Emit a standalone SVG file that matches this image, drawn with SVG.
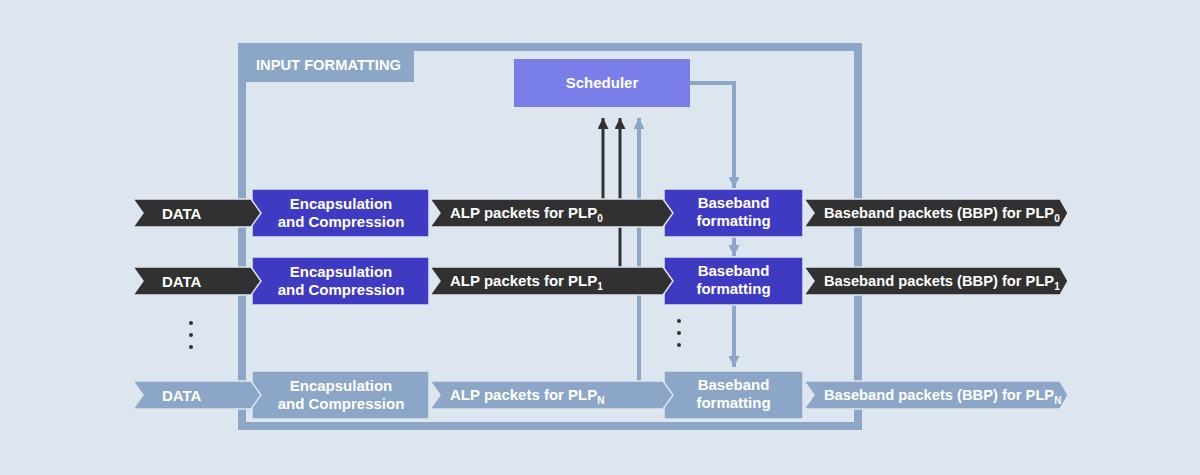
<svg xmlns="http://www.w3.org/2000/svg" width="1200" height="475" viewBox="0 0 1200 475">
<style>
text{font-family:"Liberation Sans",Arial,sans-serif;font-weight:bold;fill:#ffffff}
.t{font-size:15px}
.b{font-size:14.7px}
.c{text-anchor:middle}
.sub{font-size:10px}
.dark{fill:#313131}
.blue{fill:#3f3ac2}
.lite{fill:#8ba6c6}
.shape{stroke:#dde6ee;stroke-width:1.5}
.ln-dark{stroke:#313131;stroke-width:3;fill:none}
.ln-lite{stroke:#8ba6c6;stroke-width:4;fill:none}
.dot{fill:#313131}
</style>
<defs>
<marker id="ahD" markerWidth="11" markerHeight="11" refX="10" refY="5" orient="auto" markerUnits="userSpaceOnUse" viewBox="0 0 10 10"><path d="M0,0 L10,5 L0,10 Z" fill="#313131"/></marker>
<marker id="ahL" markerWidth="11" markerHeight="11" refX="10" refY="5" orient="auto" markerUnits="userSpaceOnUse" viewBox="0 0 10 10"><path d="M0,0 L10,5 L0,10 Z" fill="#8ba6c6"/></marker>
</defs>
<rect width="1200" height="475" fill="#dde6ee"/>
<g id="frame">
<rect x="242" y="47" width="616" height="379" fill="none" stroke="#8ba6c6" stroke-width="8"/>
<rect x="238" y="43" width="176" height="39" fill="#8ba6c6"/>
<text x="256" y="70" style="font-size:14.7px">INPUT FORMATTING</text>
</g>
<g id="connectors">
<path class="ln-dark" d="M603,199 V118" marker-end="url(#ahD)"/>
<path class="ln-dark" d="M620,267 V118" marker-end="url(#ahD)"/>
<path class="ln-lite" d="M639,381 V118" stroke-width="3" marker-end="url(#ahL)"/>
<path class="ln-lite" d="M690,83 H734 V188" marker-end="url(#ahL)"/>
<path class="ln-lite" d="M734,237 V256" marker-end="url(#ahL)"/>
<path class="ln-lite" d="M734,305 V367" marker-end="url(#ahL)"/>
</g>
<g id="scheduler">
<rect x="514" y="59" width="176" height="48" fill="#7a7ee9"/>
<text class="t c" x="602" y="88">Scheduler</text>
</g>
<g id="row0">
<rect class="blue shape" x="252" y="189" width="177" height="48"/>
<rect class="blue shape" x="664" y="189" width="139" height="48"/>
<polygon class="dark shape" points="133,199 251,199 261,213 251,227 133,227 143,213"/>
<polygon class="dark shape" points="430,199 663,199 673,213 663,227 430,227 440,213"/>
<polygon class="dark shape" points="804,199 1060,199 1068,213 1060,227 804,227 814,213"/>
<text class="t" x="162" y="219">DATA</text>
<text class="t c" x="341" y="209">Encapsulation</text>
<text class="t c" x="341" y="227">and Compression</text>
<text class="t" x="450" y="218">ALP packets for PLP<tspan class="sub" dy="4">0</tspan></text>
<text class="t c" x="733.5" y="208">Baseband</text>
<text class="t c" x="733.5" y="226">formatting</text>
<text class="b" x="824" y="218">Baseband packets (BBP) for PLP<tspan class="sub" dy="4">0</tspan></text>
</g>
<g id="row1">
<rect class="blue shape" x="252" y="257" width="177" height="48"/>
<rect class="blue shape" x="664" y="257" width="139" height="48"/>
<polygon class="dark shape" points="133,267 251,267 261,281 251,295 133,295 143,281"/>
<polygon class="dark shape" points="430,267 663,267 673,281 663,295 430,295 440,281"/>
<polygon class="dark shape" points="804,267 1060,267 1068,281 1060,295 804,295 814,281"/>
<text class="t" x="162" y="287">DATA</text>
<text class="t c" x="341" y="277">Encapsulation</text>
<text class="t c" x="341" y="295">and Compression</text>
<text class="t" x="450" y="286">ALP packets for PLP<tspan class="sub" dy="4">1</tspan></text>
<text class="t c" x="733.5" y="276">Baseband</text>
<text class="t c" x="733.5" y="294">formatting</text>
<text class="b" x="824" y="286">Baseband packets (BBP) for PLP<tspan class="sub" dy="4">1</tspan></text>
</g>
<g id="rowN">
<rect class="lite shape" x="252" y="371" width="177" height="48"/>
<rect class="lite shape" x="664" y="371" width="139" height="48"/>
<polygon class="lite shape" points="133,381 251,381 261,395 251,409 133,409 143,395"/>
<polygon class="lite shape" points="430,381 663,381 673,395 663,409 430,409 440,395"/>
<polygon class="lite shape" points="804,381 1060,381 1068,395 1060,409 804,409 814,395"/>
<text class="t" x="162" y="401">DATA</text>
<text class="t c" x="341" y="391">Encapsulation</text>
<text class="t c" x="341" y="409">and Compression</text>
<text class="t" x="450" y="400">ALP packets for PLP<tspan class="sub" dy="4">N</tspan></text>
<text class="t c" x="733.5" y="390">Baseband</text>
<text class="t c" x="733.5" y="408">formatting</text>
<text class="b" x="824" y="400">Baseband packets (BBP) for PLP<tspan class="sub" dy="4">N</tspan></text>
</g>
<g id="ellipsis">
<circle class="dot" cx="191" cy="323" r="2"/>
<circle class="dot" cx="191" cy="335" r="2"/>
<circle class="dot" cx="191" cy="347" r="2"/>
<circle class="dot" cx="679" cy="321" r="2"/>
<circle class="dot" cx="679" cy="333" r="2"/>
<circle class="dot" cx="679" cy="345" r="2"/>
</g>
</svg>
